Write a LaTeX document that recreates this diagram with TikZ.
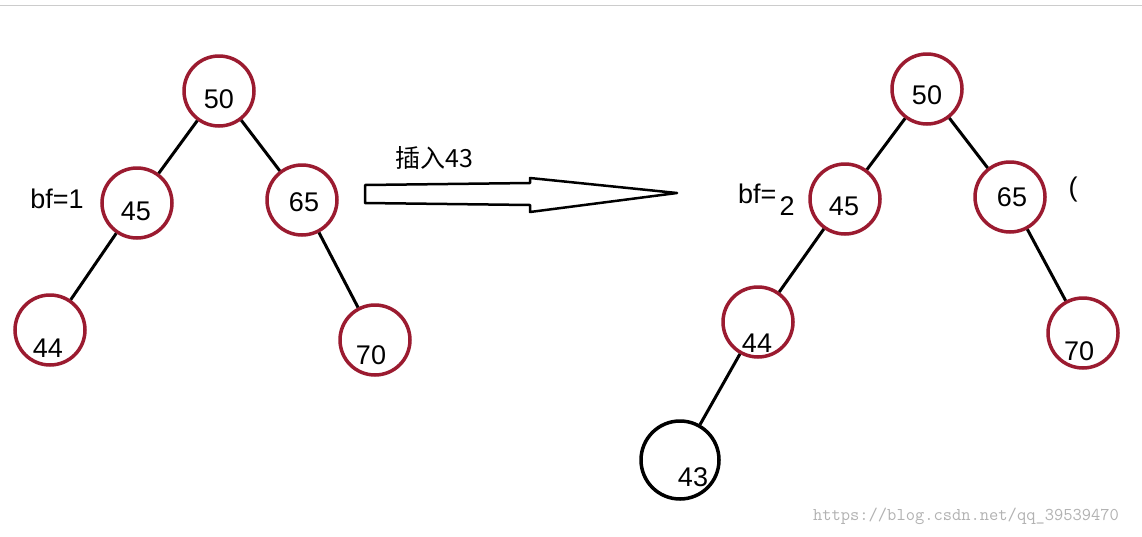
\documentclass[tikz,border=0pt]{standalone}
\usepackage{fontspec}
\setmainfont{Liberation Sans}
\newfontfamily\cjk{Noto Sans CJK SC}
\definecolor{cr}{HTML}{9B1B30}
\begin{document}
\begin{tikzpicture}[x=1pt,y=-1pt,
  tn/.style={circle,draw=cr,line width=3.5pt,minimum size=70pt,inner sep=0pt},
  lb/.style={font=\fontsize{27}{30}\selectfont},
  ed/.style={line width=3pt,black}]
\useasboundingbox (0,0) rectangle (1142,536);
\fill[white] (0,0) rectangle (1142,536);
\draw[gray!40,line width=1pt] (0,5) -- (1142,5);
% left tree
\node[tn] (a50) at (219,91) {};
\node[tn] (a45) at (137,203) {};
\node[tn] (a65) at (302,200) {};
\node[tn] (a44) at (50,330) {};
\node[tn] (a70) at (375,340) {};
\draw[ed] (a50) -- (a45); \draw[ed] (a50) -- (a65);
\draw[ed] (a45) -- (a44); \draw[ed] (a65) -- (a70);
\node[lb] (t50) at (219,99) {50};
\node[lb] (t45) at (136,211) {45};
\node[lb] (t65) at (304,202) {65};
\node[lb] (t44) at (48,348) {44};
\node[lb] (t70) at (371,355) {70};
\node[lb] (bf1) at (57,199) {bf=1};
% arrow
\node[lb,font=\fontsize{25}{28}\selectfont\cjk] (ins) at (434,158) {插入43};
\draw[line width=2.5pt,line join=round] (365,185) -- (530,183) -- (530,178) -- (677,193) -- (530,212) -- (530,205) -- (365,203) -- cycle;
% right tree
\node[tn] (b50) at (927,89) {};
\node[tn] (b45) at (845,199) {};
\node[tn] (b65) at (1010,197) {};
\node[tn] (b44) at (758,322) {};
\node[tn] (b70) at (1083,333) {};
\node[tn,draw=black,minimum size=78pt] (b43) at (680,460) {};
\draw[ed] (b50) -- (b45); \draw[ed] (b50) -- (b65);
\draw[ed] (b45) -- (b44); \draw[ed] (b65) -- (b70);
\draw[ed] (b44) -- (b43);
\node[lb] (s50) at (927,95) {50};
\node[lb] (s45) at (844,206) {45};
\node[lb] (s65) at (1012,197) {65};
\node[lb] (s44) at (757,343) {44};
\node[lb] (s70) at (1079,351) {70};
\node[lb] (s43) at (693,477) {43};
\node[lb,anchor=east] (bf2) at (780,194) {bf=};
\node[lb] (two) at (787,206) {2};
\node[lb] (par) at (1073,190) {(};
\node[font=\fontsize{18}{20}\selectfont\ttfamily,text=gray!60] (wm) at (966,516) {https://blog.csdn.net/qq\_39539470};
\end{tikzpicture}
\end{document}
